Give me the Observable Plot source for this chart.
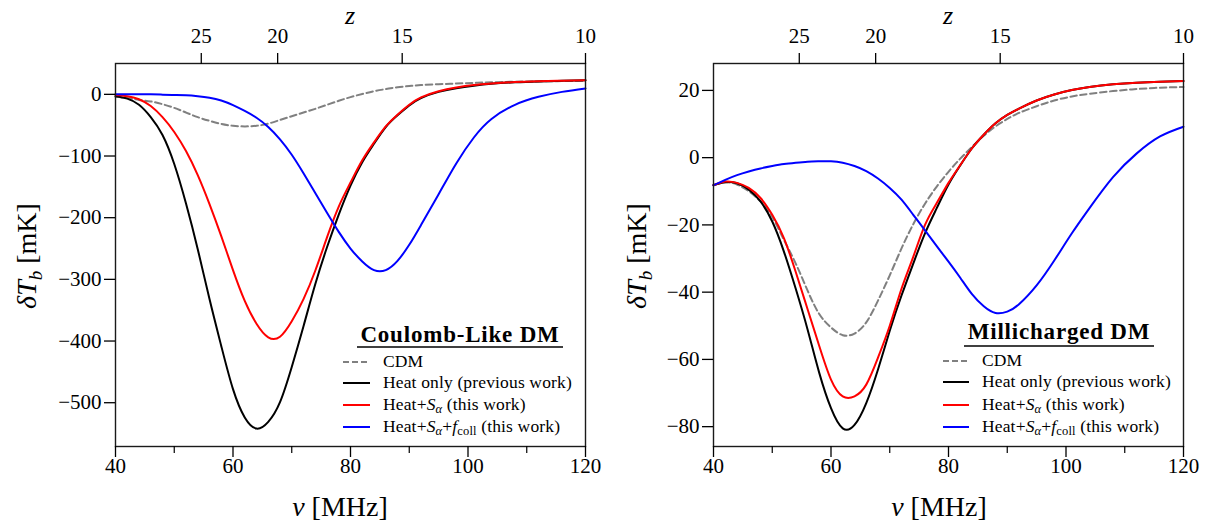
<!DOCTYPE html>
<html>
<head>
<meta charset="utf-8">
<script src="https://cdn.jsdelivr.net/npm/d3@7"></script>
<script src="https://cdn.jsdelivr.net/npm/@observablehq/plot@0.6"></script>
<style>
  html, body { margin: 0; padding: 0; background: #fff; }
  #wrap { position: relative; width: 1216px; height: 529px; background: #fff; overflow: hidden; }
  #left, #right { position: absolute; top: 0; }
  #left { left: 0; }
  #right { left: 608px; }
  #ov { position: absolute; left: 0; top: 0; pointer-events: none; }
  svg text, #ov { font-family: "Liberation Serif", "Times New Roman", "DejaVu Serif", serif; }
  .lt { font-size: 17.5px; letter-spacing: 0.15px; }
  .ttl { font-size: 23px; font-weight: bold; letter-spacing: 0.8px; }
</style>
</head>
<body>
<div id="wrap">
  <div id="left"></div>
  <div id="right"></div>
  <svg id="ov" width="1216" height="529" fill="#000">
    <!-- top axis titles -->
    <text x="350" y="24" font-size="26" font-style="italic" text-anchor="middle">z</text>
    <text x="948" y="24" font-size="26" font-style="italic" text-anchor="middle">z</text>
    <!-- bottom axis titles -->
    <text x="340" y="516" font-size="28" text-anchor="middle"><tspan font-style="italic">ν</tspan> [MHz]</text>
    <text x="939" y="516" font-size="28" text-anchor="middle"><tspan font-style="italic">ν</tspan> [MHz]</text>
    <!-- y axis titles -->
    <text transform="translate(36,256) rotate(-90)" font-size="28" text-anchor="middle"><tspan font-style="italic">δT</tspan><tspan font-style="italic" font-size="19" dy="6">b</tspan><tspan dy="-6"> [mK]</tspan></text>
    <text transform="translate(646,256) rotate(-90)" font-size="28" text-anchor="middle"><tspan font-style="italic">δT</tspan><tspan font-style="italic" font-size="19" dy="6">b</tspan><tspan dy="-6"> [mK]</tspan></text>

    <!-- left legend -->
    <g>
      <text class="ttl" x="460" y="342" text-anchor="middle">Coulomb-Like DM</text>
      <line x1="357" x2="563" y1="347" y2="347" stroke="#000" stroke-width="1.3"/>
      <line x1="343" x2="370" y1="362" y2="362" stroke="#808080" stroke-width="2" stroke-dasharray="6,3"/>
      <line x1="343" x2="370" y1="383" y2="383" stroke="#000" stroke-width="2"/>
      <line x1="343" x2="370" y1="405" y2="405" stroke="#ff0000" stroke-width="2"/>
      <line x1="343" x2="370" y1="427" y2="427" stroke="#0000ff" stroke-width="2"/>
      <text class="lt" x="383" y="367">CDM</text>
      <text class="lt" x="383" y="388">Heat only (previous work)</text>
      <text class="lt" x="383" y="410">Heat+<tspan font-style="italic">S</tspan><tspan font-style="italic" font-size="12.5" dy="3">α</tspan><tspan dy="-3"> (this work)</tspan></text>
      <text class="lt" x="383" y="432">Heat+<tspan font-style="italic">S</tspan><tspan font-style="italic" font-size="12.5" dy="3">α</tspan><tspan dy="-3">+</tspan><tspan font-style="italic">f</tspan><tspan font-size="12.5" dy="3">coll</tspan><tspan dy="-3"> (this work)</tspan></text>
    </g>
    <!-- right legend -->
    <g>
      <text class="ttl" x="1059" y="339" text-anchor="middle">Millicharged DM</text>
      <line x1="964" x2="1154" y1="346" y2="346" stroke="#000" stroke-width="1.3"/>
      <line x1="943" x2="969" y1="361" y2="361" stroke="#808080" stroke-width="2" stroke-dasharray="6,3"/>
      <line x1="943" x2="969" y1="382" y2="382" stroke="#000" stroke-width="2"/>
      <line x1="943" x2="969" y1="405" y2="405" stroke="#ff0000" stroke-width="2"/>
      <line x1="943" x2="969" y1="427" y2="427" stroke="#0000ff" stroke-width="2"/>
      <text class="lt" x="982" y="366">CDM</text>
      <text class="lt" x="982" y="387">Heat only (previous work)</text>
      <text class="lt" x="982" y="410">Heat+<tspan font-style="italic">S</tspan><tspan font-style="italic" font-size="12.5" dy="3">α</tspan><tspan dy="-3"> (this work)</tspan></text>
      <text class="lt" x="982" y="432">Heat+<tspan font-style="italic">S</tspan><tspan font-style="italic" font-size="12.5" dy="3">α</tspan><tspan dy="-3">+</tspan><tspan font-style="italic">f</tspan><tspan font-size="12.5" dy="3">coll</tspan><tspan dy="-3"> (this work)</tspan></text>
    </g>
  </svg>
</div>
<script>
// ---------------- data ----------------
const nu = [40,42,44,46,48,50,52,54,56,58,60,62,64,66,68,70,72,74,76,78,80,82,84,86,88,90,92,95,98,101,104,108,112,116,120];

// Left panel: Coulomb-Like DM
const cdmL    = [-4,-6,-9,-11.5,-16,-22,-29.5,-37,-43,-48,-51,-52,-51,-47.5,-41.5,-35.5,-29.5,-23.5,-17,-10.5,-4.5,0.5,5,8.5,11.5,13.5,15,16.5,17.5,18.5,19.5,20.5,21,21.5,21.8];
const heatL   = [-3,-7,-17,-37,-66,-113,-177,-251,-332,-408,-478,-524,-542,-531,-499,-442,-376,-308,-248,-195,-148,-110,-80,-53,-34,-18,-6,4,10,14,17,19.5,21,22,22.7];
const salphaL = [-1,-3,-8,-19,-37,-61,-92,-131,-178,-230,-285,-335,-372,-394,-393,-368,-332,-286,-232,-182,-143,-107,-78,-52,-33,-17,-5,5,11,15,17.5,20,21.3,22.2,22.8];
const fcollL  = [0,0,0,0,-0.5,-1,-1.5,-3,-5.5,-10,-17.5,-27,-38,-53,-73,-98,-128,-160,-192,-223,-250,-271,-285,-285,-270,-244,-212,-162,-112,-70,-40,-17,-4,4,9.5];

// Right panel: Millicharged DM
const cdmR    = [-8.2,-7.3,-8,-10,-13,-17.6,-24.5,-31.5,-39.5,-46.5,-50.5,-52.8,-52.3,-49,-42.5,-35,-27,-19.8,-13.7,-8.6,-4.2,-0.3,3.2,6.5,9.3,11.5,13.3,15.3,17,18.2,19,19.8,20.4,20.8,21];
const heatR   = [-8.2,-7.3,-7.6,-9.5,-13,-19,-28,-39,-51,-64,-74.5,-80.5,-79.5,-73,-63,-51.5,-41,-31.5,-22.5,-15,-8,-2.3,2.8,6.8,10.2,12.7,14.6,17,18.8,20.1,21,21.8,22.3,22.6,22.8];
const salphaR = [-8.2,-7.1,-7.5,-9,-12,-17,-24,-34,-45,-56,-66,-71,-71,-67.5,-59.5,-50,-39,-29.5,-20,-13.5,-7.5,-2.2,2.8,6.8,10.2,12.7,14.6,17,18.8,20.1,21,21.8,22.3,22.6,22.8];
const fcollR  = [-8.2,-6.6,-5.2,-4.1,-3.2,-2.5,-1.9,-1.5,-1.2,-1.1,-1.1,-1.5,-2.5,-4,-6.2,-9,-12.5,-17,-21.6,-26.3,-30.9,-35.7,-40.6,-44.2,-46.2,-45.8,-43.6,-38,-30.6,-22.5,-15,-5.8,1.2,6.3,9.2];

// Axes
const xMajor = [40,60,80,100,120];
const xMinor = [50,70,90,110];
const zLabels = ["25","20","15","10"];
const zNu     = [54.6,67.6,88.8,120];   // top-axis tick positions in MHz as drawn
const yTicksL = [-500,-400,-300,-200,-100,0];
const yTicksR = [-80,-60,-40,-20,0,20];

// ---------------- chart ----------------
const FONT = "'Liberation Serif', 'Times New Roman', 'DejaVu Serif', serif";
const seriesStyle = [
  {key: "cdm",    stroke: "#808080", dash: "6.5,3.5"},
  {key: "heat",   stroke: "#000000", dash: null},
  {key: "salpha", stroke: "#ff0000", dash: null},
  {key: "fcoll",  stroke: "#0000ff", dash: null}
];

function rows(values) { return nu.map((v, i) => ({nu: v, T: values[i]})); }

function panel({series, yDomain, yTicks, marginLeft, marginRight}) {
  const zMap = new Map(zNu.map((v, i) => [v, zLabels[i]]));
  const lineMarks = seriesStyle.map(s => Plot.line(rows(series[s.key]), {
    x: "nu", y: "T", stroke: s.stroke, strokeWidth: 2,
    strokeDasharray: s.dash || undefined, curve: "natural"
  }));
  return Plot.plot({
    width: 608, height: 529,
    marginLeft, marginRight, marginTop: 63, marginBottom: 83,
    style: {fontFamily: FONT, fontSize: "21px", color: "#000", background: "transparent", overflow: "visible"},
    x: {domain: [40, 120]},
    y: {domain: yDomain},
    marks: [
      ...lineMarks,
      Plot.frame({stroke: "#1a1a1a", strokeWidth: 1.4}),
      Plot.axisX(xMajor, {anchor: "bottom", tickSize: 11, tickPadding: 1, fontSize: 21, strokeWidth: 1.3, label: null}),
      Plot.axisX(xMinor, {anchor: "bottom", tickSize: 7, tickFormat: () => "", strokeWidth: 1.2, label: null}),
      Plot.axisX(zNu, {anchor: "top", tickSize: 11, tickPadding: 10, fontSize: 21, strokeWidth: 1.3, tickFormat: d => zMap.get(d), label: null}),
      Plot.axisY(yTicks, {anchor: "left", tickSize: 11, tickPadding: 3, fontSize: 21, strokeWidth: 1.3, label: null})
    ]
  });
}

document.getElementById("left").appendChild(panel({
  series: {cdm: cdmL, heat: heatL, salpha: salphaL, fcoll: fcollL},
  yDomain: [-571, 50], yTicks: yTicksL, marginLeft: 115, marginRight: 23
}));
document.getElementById("right").appendChild(panel({
  series: {cdm: cdmR, heat: heatR, salpha: salphaR, fcoll: fcollR},
  yDomain: [-85.9, 28], yTicks: yTicksR, marginLeft: 105, marginRight: 33
}));
</script>
</body>
</html>
